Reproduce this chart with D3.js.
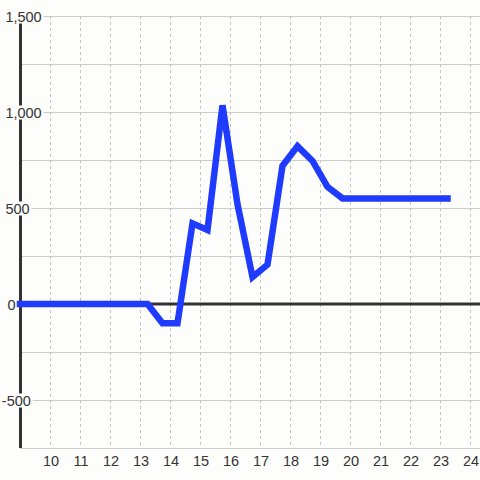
<!DOCTYPE html>
<html>
<head>
<meta charset="utf-8">
<script src="https://cdn.jsdelivr.net/npm/d3@7"></script>
<style>
  html, body { margin: 0; padding: 0; background: #fdfdfb; }
  svg { display: block; }
  text { font-family: "Liberation Sans", Arial, sans-serif; }
</style>
</head>
<body>
<svg id="chart" width="480" height="480"></svg>
<script>
const hours  = [9, 13.25, 13.75, 14.25, 14.75, 15.25, 15.75, 16.25, 16.75, 17.25, 17.75, 18.25, 18.75, 19.25, 19.75, 23.25];
const values = [0, 0, -100, -100, 420, 385, 1035, 520, 140, 205, 720, 822, 745, 610, 550, 550];
const xTicks = [10, 11, 12, 13, 14, 15, 16, 17, 18, 19, 20, 21, 22, 23, 24];
const yTicks = [1500, 1000, 500, 0, -500];
const yGrid  = [1500, 1250, 1000, 750, 500, 250, -250, -500, -750];

const W = 480, H = 480;
const svg = d3.select("#chart");
const x = d3.scaleLinear().domain([9, 24]).range([20, 470]);
const y = d3.scaleLinear().domain([-750, 1500]).range([448, 16]);
const bg = "#fdfdfb";

// horizontal grid
svg.append("g").selectAll("line").data(yGrid).join("line")
  .attr("x1", x(9)).attr("x2", W)
  .attr("y1", d => y(d) + 0.5).attr("y2", d => y(d) + 0.5)
  .attr("stroke", "#cccccc").attr("stroke-width", 1);

// vertical dashed grid
svg.append("g").selectAll("line").data(xTicks).join("line")
  .attr("x1", d => x(d) + 0.5).attr("x2", d => x(d) + 0.5)
  .attr("y1", y(1500)).attr("y2", y(-750))
  .attr("stroke", "#c4c4c4").attr("stroke-width", 1)
  .attr("stroke-dasharray", "3,3");

// y axis line
svg.append("line")
  .attr("x1", x(9) + 0.5).attr("x2", x(9) + 0.5)
  .attr("y1", y(1500)).attr("y2", y(-750))
  .attr("stroke", "#333333").attr("stroke-width", 3);

// zero line
svg.append("line")
  .attr("x1", x(9)).attr("x2", W)
  .attr("y1", y(0)).attr("y2", y(0))
  .attr("stroke", "#333333").attr("stroke-width", 3);

// y labels with background
const fmt = d => d3.format(",")(Math.abs(d));
const lab = svg.append("g").selectAll("g").data(yTicks).join("g");
lab.append("text")
  .attr("x", d => d < 0 ? 1.8 : (d === 0 ? 7.4 : 5.4))
  .attr("y", d => y(d) + 5.5)
  .attr("font-size", 14.5)
  .attr("fill", "#333333")
  .text(d => (d < 0 ? "-" : "") + fmt(d));
lab.each(function() {
  const g = d3.select(this);
  const t = g.select("text").node();
  const b = t.getBBox();
  g.insert("rect", "text")
    .attr("x", b.x - 1).attr("y", b.y + 1)
    .attr("width", b.width + 3).attr("height", b.height - 2)
    .attr("fill", bg);
});

// x labels
svg.append("g").selectAll("text").data(xTicks).join("text")
  .attr("x", d => x(d) + 1)
  .attr("y", 466)
  .attr("text-anchor", "middle")
  .attr("font-size", 14.5)
  .attr("fill", "#333333")
  .text(d => d);

// data line
const line = d3.line().x((d, i) => x(hours[i])).y(d => y(d));
svg.append("path")
  .attr("d", line(values))
  .attr("fill", "none")
  .attr("stroke", "#1f3bff")
  .attr("stroke-width", 6.5)
  .attr("stroke-linecap", "square")
  .attr("stroke-linejoin", "miter");
</script>
</body>
</html>
